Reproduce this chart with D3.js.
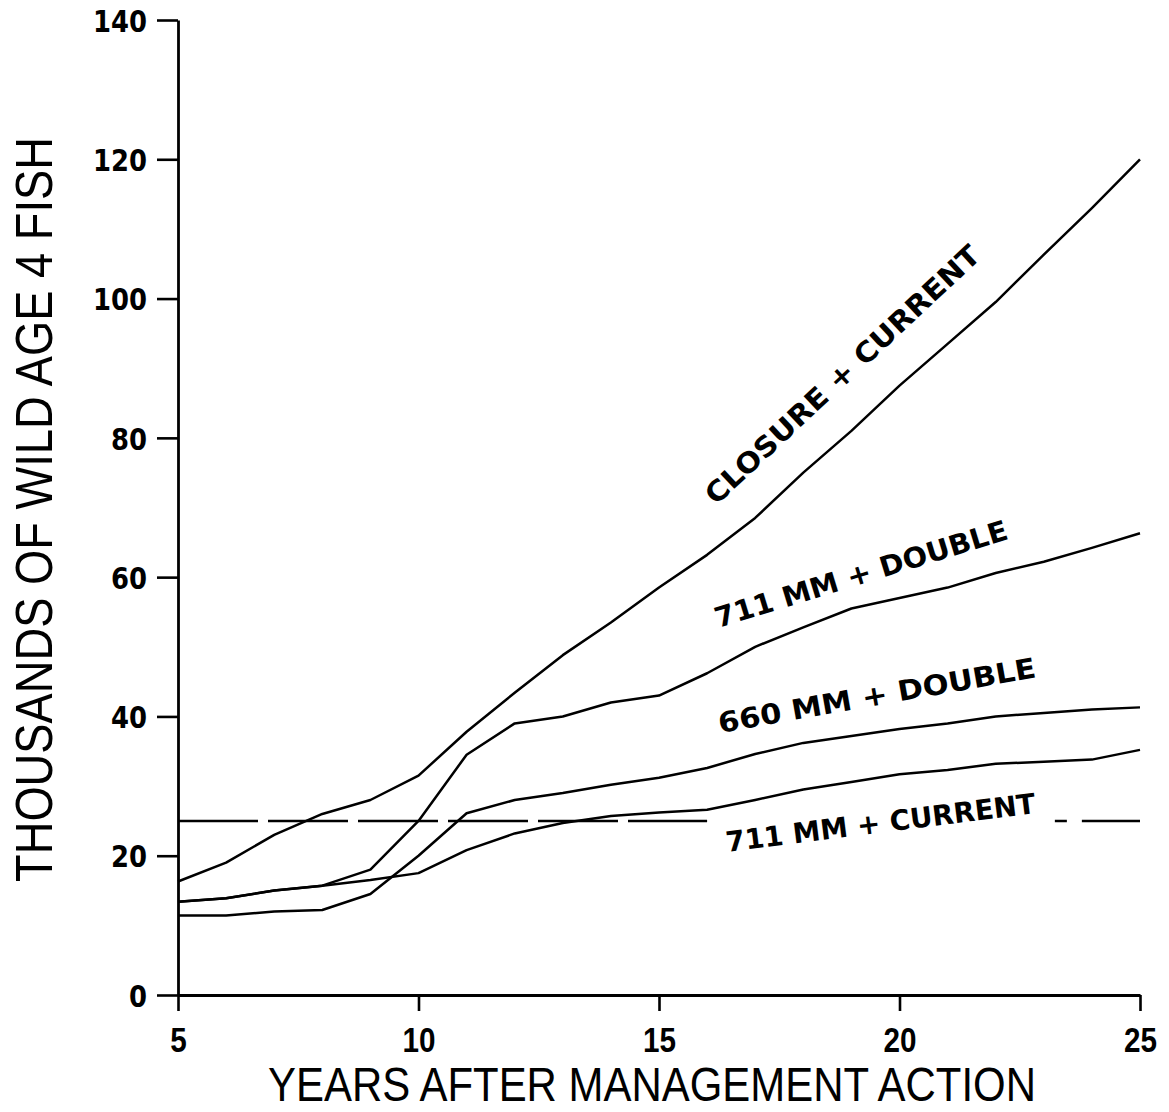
<!DOCTYPE html>
<html><head><meta charset="utf-8">
<script src="https://cdn.jsdelivr.net/npm/d3@7"></script>
<style>body{margin:0;background:#fff}</style>
</head><body>
<script>
const years = [5,6,7,8,9,10,11,12,13,14,15,16,17,18,19,20,21,22,23,24,25];
const closureCurrent = [16.3,19,23,26,28,31.5,37.8,43.4,48.8,53.5,58.5,63.2,68.5,75,81,87.5,93.5,99.5,106.3,113,120];
const mm711Double   = [13.4,13.9,15,15.7,18,25,34.5,39,40,42,43,46.2,50,52.8,55.5,57,58.5,60.6,62.2,64.2,66.3];
const mm660Double   = [11.4,11.4,12,12.2,14.5,20,26.1,28,29,30.2,31.2,32.6,34.6,36.2,37.2,38.2,39,40,40.5,41,41.3];
const mm711Current  = [13.4,13.9,15,15.7,16.5,17.5,20.8,23.2,24.7,25.7,26.2,26.6,28,29.5,30.6,31.7,32.3,33.2,33.5,33.8,35.2];
const referenceLevel = 25;
const referenceSpans = [[5,16],[23.23,25]];
const xTicks = [5,10,15,20,25];
const yTicks = [0,20,40,60,80,100,120,140];
const seriesLabels = ["CLOSURE + CURRENT","711 MM + DOUBLE","660 MM + DOUBLE","711 MM + CURRENT"];

const W=1169,H=1112;
const svg=d3.select("body").append("svg").attr("width",W).attr("height",H);
const x=d3.scaleLinear().domain([5,25]).range([178,1140]);
const y=d3.scaleLinear().domain([0,140]).range([995,20]);

const yAxis=svg.append("g").attr("transform","translate(178,0)")
  .call(d3.axisLeft(y).tickValues(yTicks).tickSize(21).tickSizeOuter(0));
yAxis.select(".domain").attr("stroke","#000").attr("stroke-width",2.8);
yAxis.selectAll(".tick line").attr("stroke","#000").attr("stroke-width",2.6);
yAxis.selectAll(".tick text").attr("font-family","DejaVu Sans").attr("font-weight","bold")
  .attr("font-size",31).attr("fill","#000").attr("dy","0.36em").attr("x",-31)
  .attr("textLength",d=>String(d).length*18).attr("lengthAdjust","spacingAndGlyphs");

const xAxis=svg.append("g").attr("transform","translate(0,995)")
  .call(d3.axisBottom(x).tickValues(xTicks).tickSize(16).tickSizeOuter(0));
xAxis.select(".domain").attr("stroke","#000").attr("stroke-width",2.8);
xAxis.selectAll(".tick line").attr("stroke","#000").attr("stroke-width",2.6);
xAxis.selectAll(".tick text").attr("font-family","Liberation Sans").attr("font-weight","bold")
  .attr("font-size",35).attr("fill","#000").attr("y",57).attr("dy",0)
  .attr("textLength",d=>String(d).length*16.5).attr("lengthAdjust","spacingAndGlyphs");

const line=d3.line().x((d,i)=>x(years[i])).y(d=>y(d));
[closureCurrent,mm711Double,mm660Double,mm711Current].forEach(s=>{
  svg.append("path").datum(s).attr("d",line).attr("fill","none")
    .attr("stroke","#000").attr("stroke-width",2.5).attr("stroke-linejoin","round");
});

const dashes=["80,10","12,15,70"];
referenceSpans.forEach((sp,i)=>{
  svg.append("line").attr("x1",x(sp[0])).attr("x2",x(sp[1]))
    .attr("y1",y(referenceLevel)).attr("y2",y(referenceLevel))
    .attr("stroke","#000").attr("stroke-width",2.5).attr("stroke-dasharray",dashes[i]);
});

const labelPos=[[716,506,-43,364],[718,628,-17,305],[720,733,-10,322],[727,852,-7.2,312]];
seriesLabels.forEach((t,i)=>{
  const p=labelPos[i];
  svg.append("text").attr("transform",`translate(${p[0]},${p[1]}) rotate(${p[2]})`)
    .attr("font-family","DejaVu Sans").attr("font-weight","bold").attr("font-size",28)
    .attr("textLength",p[3]).attr("lengthAdjust","spacingAndGlyphs").text(t);
});

svg.append("text").attr("x",268).attr("y",1101).attr("font-family","Liberation Sans")
  .attr("font-size",48).attr("textLength",768).attr("lengthAdjust","spacingAndGlyphs")
  .text("YEARS AFTER MANAGEMENT ACTION");
svg.append("text").attr("transform","translate(52,882) rotate(-90)").attr("font-family","Liberation Sans")
  .attr("font-size",51).attr("textLength",745).attr("lengthAdjust","spacingAndGlyphs")
  .text("THOUSANDS OF WILD AGE 4 FISH");
</script>
</body></html>
